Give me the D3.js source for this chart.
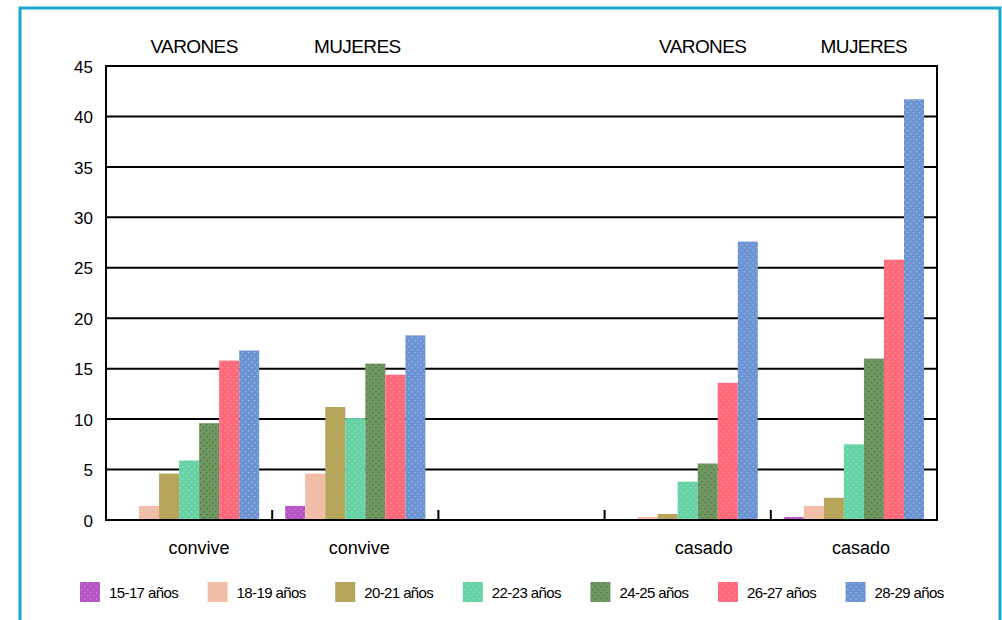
<!DOCTYPE html>
<html>
<head>
<meta charset="utf-8">
<script src="https://cdn.jsdelivr.net/npm/d3@7"></script>
<style>
  html, body { margin: 0; padding: 0; background: #fff; }
  svg { display: block; }
  text { font-family: "Liberation Sans", Arial, sans-serif; fill: #000; }
</style>
</head>
<body>
<svg id="chart" width="1002" height="620"></svg>
<script>
// Grupos del eje X (el tercero es un hueco de separación)
const groupKeys   = ["g1", "g2", "g3", "g4", "g5"];
const groupLabels = ["convive", "convive", "", "casado", "casado"];
const sexLabels   = ["VARONES", "MUJERES", "", "VARONES", "MUJERES"];

// Tramos de edad
const series = ["15-17 años", "18-19 años", "20-21 años", "22-23 años", "24-25 años", "26-27 años", "28-29 años"];

// Porcentajes por tramo de edad, un valor por grupo
const v1517 = [0,    1.4,  null, 0,    0.3];
const v1819 = [1.4,  4.6,  null, 0.3,  1.4];
const v2021 = [4.6,  11.2, null, 0.6,  2.2];
const v2223 = [5.9,  10.1, null, 3.8,  7.5];
const v2425 = [9.6,  15.5, null, 5.6,  16.0];
const v2627 = [15.8, 14.4, null, 13.6, 25.8];
const v2829 = [16.8, 18.3, null, 27.6, 41.7];
const seriesValues = [v1517, v1819, v2021, v2223, v2425, v2627, v2829];

const yTicks = [0, 5, 10, 15, 20, 25, 30, 35, 40, 45];

// Colores base y de punteado de cada tramo
const baseColors = ["#b455c4", "#f2bca8", "#b9a45a", "#66d2a4", "#6e9a5e", "#ff6878", "#7090d6"];
const dotColors  = ["#d77fe0", "#e5d09a", "#8fb060", "#8fe4c0", "#5a5a6a", "#ff9aa0", "#7ad6c8"];

const svg = d3.select("#chart");

// Texturas punteadas de las barras
const defs = svg.append("defs");
series.forEach((s, i) => {
  const p = defs.append("pattern")
    .attr("id", "pat" + i)
    .attr("patternUnits", "userSpaceOnUse")
    .attr("width", 6).attr("height", 6);
  p.append("rect").attr("width", 6).attr("height", 6).attr("fill", baseColors[i]);
  p.append("rect").attr("x", 1).attr("y", 1).attr("width", 1.4).attr("height", 1.4)
    .attr("fill", dotColors[i]).attr("opacity", 0.9);
  p.append("rect").attr("x", 4).attr("y", 4).attr("width", 1.4).attr("height", 1.4)
    .attr("fill", dotColors[i]).attr("opacity", 0.9);
});

// Marco exterior
svg.append("rect")
  .attr("x", 20).attr("y", 8).attr("width", 980).attr("height", 640)
  .attr("fill", "none").attr("stroke", "#1aa6cc").attr("stroke-width", 3);

const plot = { left: 106, right: 937, top: 66, bottom: 520 };

const x0 = d3.scaleBand().domain(groupKeys).range([plot.left, plot.right]).padding(0);
const x1 = d3.scaleBand().domain(series)
  .range([13, x0.bandwidth() - 13]).padding(0);
const y = d3.scaleLinear().domain([0, 45]).range([plot.bottom, plot.top]);

// Líneas de cuadrícula horizontales
svg.append("g")
  .selectAll("line")
  .data(yTicks.filter(t => t > 0))
  .join("line")
  .attr("x1", plot.left).attr("x2", plot.right)
  .attr("y1", d => y(d)).attr("y2", d => y(d))
  .attr("stroke", "#000").attr("stroke-width", 2);

// Barras
const groups = svg.append("g")
  .selectAll("g")
  .data(groupKeys)
  .join("g")
  .attr("transform", d => `translate(${x0(d)},0)`);

groups.selectAll("rect")
  .data((g, gi) => series.map((s, si) => ({ s, si, v: seriesValues[si][gi] }))
    .filter(d => d.v !== null && d.v > 0))
  .join("rect")
  .attr("x", d => x1(d.s))
  .attr("width", x1.bandwidth())
  .attr("y", d => y(d.v))
  .attr("height", d => y(0) - y(d.v))
  .attr("fill", d => `url(#pat${d.si})`);

// Eje Y con etiquetas
const yAxis = svg.append("g")
  .attr("transform", `translate(${plot.left},0)`)
  .call(d3.axisLeft(y).tickValues(yTicks).tickSize(0).tickPadding(13));
yAxis.select(".domain").remove();
yAxis.selectAll("text")
  .style("font-size", "17px")
  .style("font-family", "'Liberation Sans', Arial, sans-serif")
  .attr("dy", "0.36em");

// Marco del área de trazado
svg.append("rect")
  .attr("x", plot.left).attr("y", plot.top)
  .attr("width", plot.right - plot.left).attr("height", plot.bottom - plot.top)
  .attr("fill", "none").attr("stroke", "#000").attr("stroke-width", 2);

// Marcas de separación de grupos sobre el eje X
const xAxis = svg.append("g")
  .attr("transform", `translate(0,${plot.bottom})`)
  .call(d3.axisBottom(x0).tickSize(-10).tickFormat(""));
xAxis.select(".domain").remove();
xAxis.selectAll(".tick line")
  .attr("transform", d => `translate(${-x0.bandwidth() / 2},0)`)
  .attr("stroke", "#000").attr("stroke-width", 2)
  .filter((d, i) => i === 0).remove();

// Desplazamientos horizontales de los rótulos respecto al centro del grupo
const topDx = [5, 2, 0, 15, 10];
const botDx = [10, 4, 0, 16, 7];

svg.append("g")
  .selectAll("text")
  .data(groupKeys)
  .join("text")
  .attr("x", (d, i) => x0(d) + x0.bandwidth() / 2 + topDx[i])
  .attr("y", 53)
  .attr("text-anchor", "middle")
  .style("font-size", "19px")
  .style("letter-spacing", "-0.6px")
  .text((d, i) => sexLabels[i]);

svg.append("g")
  .selectAll("text")
  .data(groupKeys)
  .join("text")
  .attr("x", (d, i) => x0(d) + x0.bandwidth() / 2 + botDx[i])
  .attr("y", 554)
  .attr("text-anchor", "middle")
  .style("font-size", "18px")
  .text((d, i) => groupLabels[i]);

// Leyenda
const legend = svg.append("g")
  .selectAll("g")
  .data(series)
  .join("g")
  .attr("transform", (d, i) => `translate(${80 + i * 127.6},582)`);
legend.append("rect")
  .attr("width", 20).attr("height", 20)
  .attr("fill", (d, i) => `url(#pat${i})`);
legend.append("text")
  .attr("x", 29).attr("y", 16)
  .style("font-size", "15px")
  .style("letter-spacing", "-0.6px")
  .text(d => d);
</script>
</body>
</html>
